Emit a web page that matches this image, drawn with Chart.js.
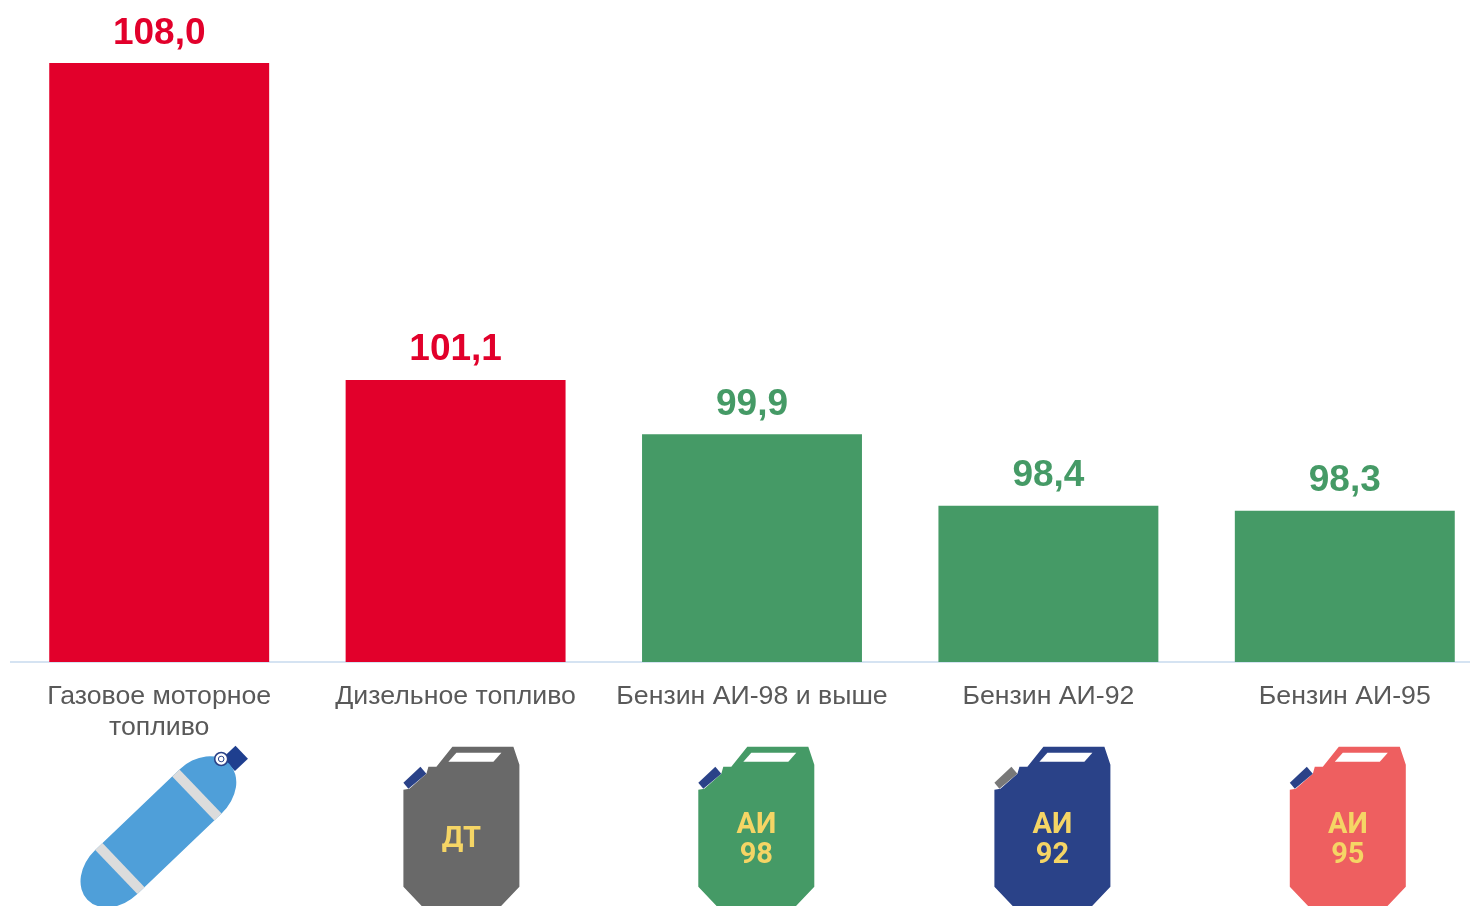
<!DOCTYPE html>
<html><head><meta charset="utf-8">
<style>html,body{margin:0;padding:0;background:#fff;width:1470px;height:906px;overflow:hidden}canvas{display:block;position:absolute;left:0;top:0}</style>
<script src="https://cdn.jsdelivr.net/npm/chart.js@4"></script>
</head><body><canvas id="c" width="1500" height="906"></canvas>
<script>
const categories = [['Газовое моторное','топливо'],'Дизельное топливо','Бензин АИ-98 и выше','Бензин АИ-92','Бензин АИ-95'];
const values = [108.0,101.1,99.92,98.36,98.25];
const valueLabels = ['108,0','101,1','99,9','98,4','98,3'];
const RED='#E2002B', GREEN='#459A66';
const barColors = [RED,RED,GREEN,GREEN,GREEN];
const canBody = [null,'#696969','#459A66','#2A4288','#EE5F60'];
const canCap = [null,'#2A4288','#2A4288','#787878','#2A4288'];
const canText = [null,['ДТ'],['АИ','98'],['АИ','92'],['АИ','95']];

function drawCan(ctx,left,body,cap,lines){
  ctx.save();
  ctx.translate(left,746.7);
  const p=(a)=>{ctx.beginPath();a.forEach((q,i)=>i?ctx.lineTo(q[0],q[1]):ctx.moveTo(q[0],q[1]));ctx.closePath();ctx.fill();};
  ctx.fillStyle=body;
  p([[49,0],[110,0],[116,18],[116,140],[97,160],[19,160],[0,140],[0,43],[6,42],[23,27],[25,20],[33,20]]);
  ctx.fillStyle=cap;
  p([[0,36],[17,20],[23,27],[5,42]]);
  ctx.fillStyle='#fff';
  p([[53,6],[98,6],[90,15],[45,15]]);
  ctx.fillStyle='#F5D565';
  ctx.textAlign='center';ctx.textBaseline='alphabetic';
  ctx.font='700 29px Roboto';
  if(lines.length===1){ctx.fillText(lines[0],58,100);}
  else{ctx.fillText(lines[0],58,86.5);ctx.fillText(lines[1],58,116.5);}
  ctx.restore();
}
function drawTank(ctx,cx,cy){
  ctx.save();
  ctx.translate(cx,cy);
  ctx.rotate(-43.7*Math.PI/180);
  const r=30.5, L=106.5, d=40;
  ctx.fillStyle='#1F3F8F';
  ctx.fillRect(44,-9,18,18);
  ctx.fillStyle='#4F9FD9';
  ctx.beginPath();
  ctx.ellipse(5,0,d,r,0,-Math.PI/2,Math.PI/2);
  ctx.lineTo(-L-5,r);
  ctx.ellipse(-L-5,0,d,r,0,Math.PI/2,Math.PI*1.5);
  ctx.closePath();ctx.fill();
  ctx.fillStyle='#DCDCDC';
  ctx.fillRect(-5,-r,10,2*r);
  ctx.fillRect(-L-5,-r,10,2*r);
  ctx.restore();
  ctx.save();
  ctx.translate(cx+24.3,cy-36);
  ctx.fillStyle='#fff';ctx.strokeStyle='#2A4288';ctx.lineWidth=1.6;
  ctx.beginPath();ctx.arc(0,0,6.5,0,Math.PI*2);ctx.fill();ctx.stroke();
  ctx.beginPath();ctx.arc(0,0,2.8,0,Math.PI*2);ctx.lineWidth=1;ctx.stroke();
  ctx.restore();
}
const decor={id:'decor',afterDatasetsDraw(chart){
  const ctx=chart.ctx, meta=chart.getDatasetMeta(0), x=chart.scales.x;
  ctx.save();
  ctx.textAlign='center';ctx.textBaseline='alphabetic';
  ctx.font='700 37px "Liberation Sans"';
  meta.data.forEach((b,i)=>{ctx.fillStyle=barColors[i];ctx.fillText(valueLabels[i],b.x,b.y-19.5);});
  ctx.restore();
  ctx.save();
  ctx.filter='blur(0.5px)';
  drawTank(ctx,x.getPixelForTick(0)+37.7,795);
  const shift=[0,-52.2,-53.7,-54,-55];
  for(let i=1;i<categories.length;i++){
    drawCan(ctx,x.getPixelForTick(i)+shift[i],canBody[i],canCap[i],canText[i]);
  }
  ctx.restore();
}};
new Chart(document.getElementById('c'),{
  type:'bar',
  data:{labels:categories,datasets:[{data:values,backgroundColor:barColors,barPercentage:0.742,categoryPercentage:1,borderWidth:0}]},
  options:{
    responsive:false,animation:false,devicePixelRatio:1,
    layout:{padding:{left:11,right:7,top:63,bottom:0}},
    plugins:{legend:{display:false},tooltip:{enabled:false},title:{display:false}},
    scales:{
      y:{display:false,min:94.96,max:108},
      x:{
        grid:{display:false,drawTicks:false},
        border:{display:true,color:'#D5E3F2',width:2},
        afterFit(s){s.height=244;},
        ticks:{color:'#595959',padding:19,maxRotation:0,minRotation:0,autoSkip:false,
          font:{family:'"Liberation Sans"',size:26.7,lineHeight:1.17}}
      }
    }
  },
  plugins:[decor]
});
</script></body></html>
